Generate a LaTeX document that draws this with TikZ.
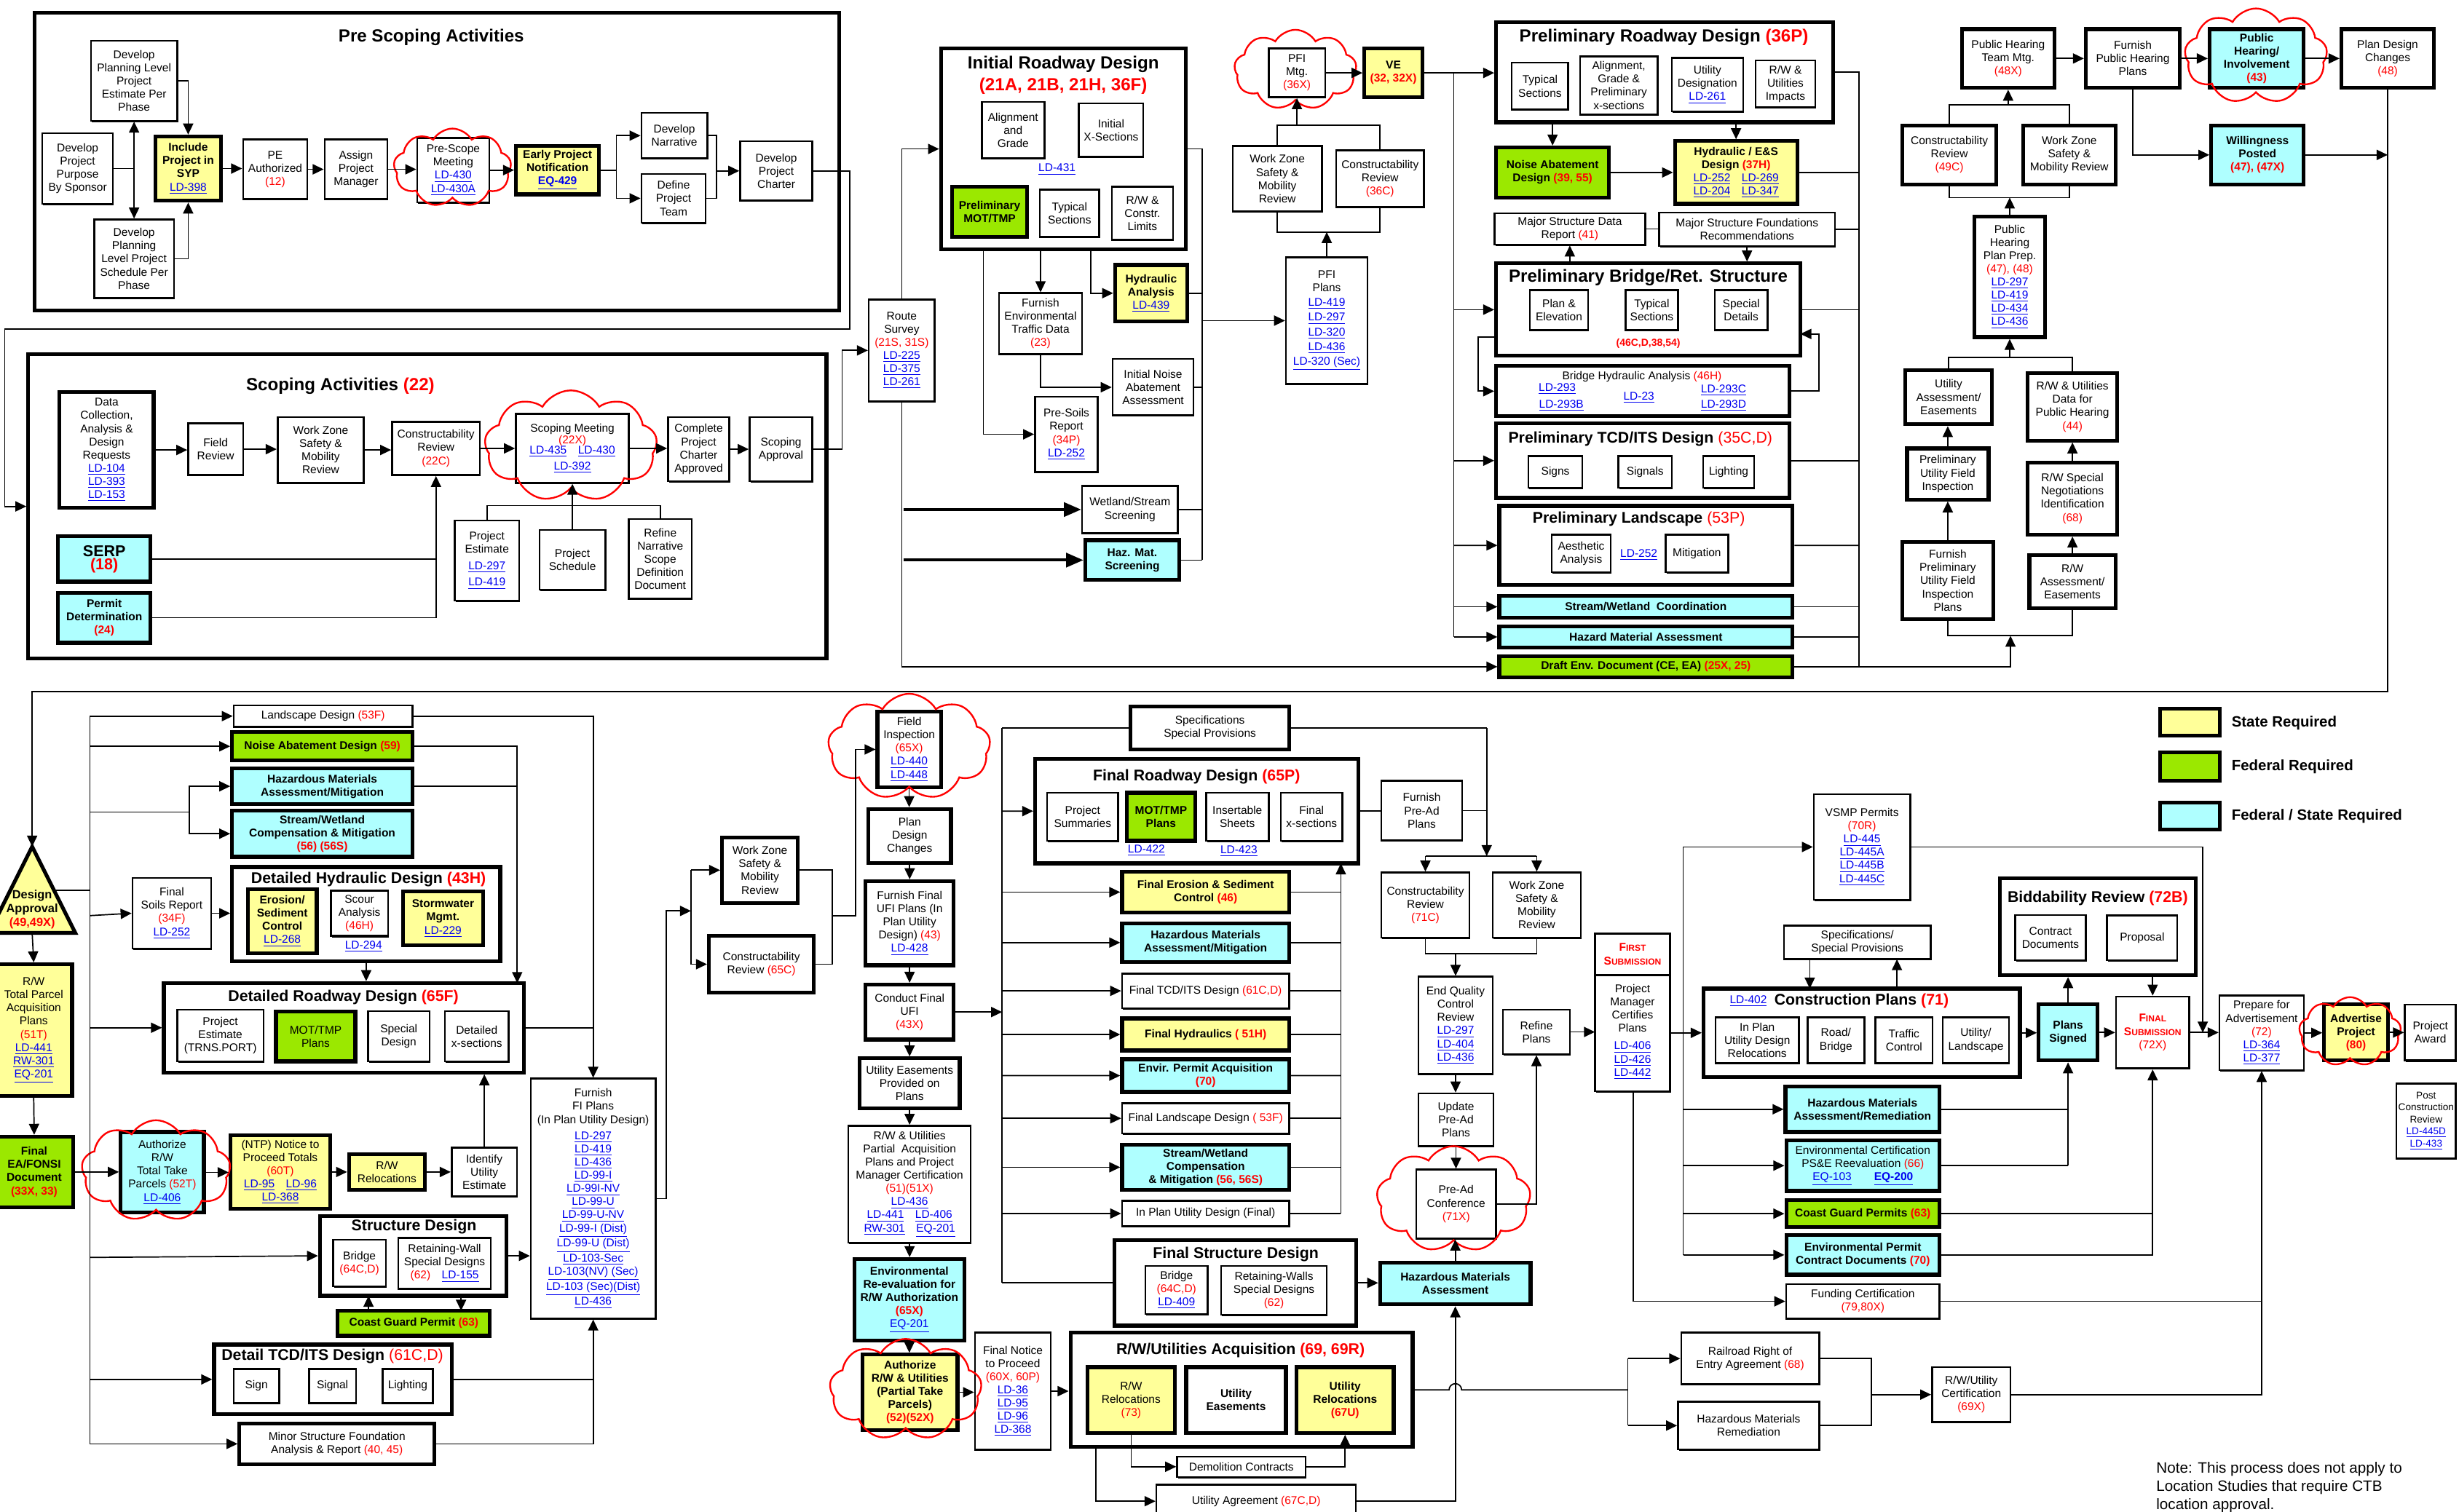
\documentclass[tikz,border=0pt]{standalone}
\usepackage{fontspec}
\setmainfont{Liberation Sans}
\usetikzlibrary{arrows.meta,shapes.symbols,shadows}
\definecolor{ylw}{RGB}{255,255,153}
\definecolor{grn}{RGB}{155,232,0}
\definecolor{cyn}{RGB}{175,255,255}
\definecolor{lkb}{RGB}{0,0,240}
\definecolor{rdd}{RGB}{255,0,0}
\newcommand\fs{\fontsize{7.2}{8.4}\selectfont}
\newcommand\lk[1]{\textcolor{lkb}{\underline{#1}}}
\newcommand\rd[1]{\textcolor{rdd}{#1}}
\newcommand\smc[2]{#1{\fontsize{5.6}{7}\selectfont #2}}
\newcommand\Bx[7]{\node[#2,minimum width={(#5)-(#3)},minimum height={(#6)-(#4)}] (#1) at ({((#3)+(#5))/2},{((#4)+(#6))/2}) {#7};}
\newcommand\Cl[5]{\node[cld,minimum width={(#4)-(#2)},minimum height={(#5)-(#3)}] (#1) at ({((#2)+(#4))/2},{((#3)+(#5))/2}) {};}
\tikzset{
  bx/.style={draw,fill=white,line width=1.2pt,align=center,inner sep=1pt,font=\fs,general shadow={fill=black,shadow xshift=0.6pt,shadow yshift=-0.8pt}},
  tk/.style={bx,line width=2.4pt},
  yb/.style={tk,fill=ylw}, gb/.style={tk,fill=grn}, cb/.style={tk,fill=cyn},
  frm/.style={draw,fill=white,line width=2.4pt,inner sep=0pt,general shadow={fill=black,shadow xshift=0.8pt,shadow yshift=-1pt}},
  ttl/.style={font=\bfseries\fontsize{11.2}{13}\selectfont,inner sep=0pt},
  ttls/.style={font=\bfseries\fontsize{9.9}{11.5}\selectfont,inner sep=0pt},
  lbl/.style={font=\fs,inner sep=0pt,align=center},
  arr/.style={line width=0.8pt,-{Triangle[length=7pt,width=6.5pt]}},
  tharr/.style={line width=1.8pt,-{Triangle[length=11pt,width=9pt]}},
  cld/.style={cloud,draw=rdd,line width=1.1pt,cloud puffs=9,cloud puff arc=120,cloud ignores aspect,inner sep=0pt}
}
\begin{document}
\begin{tikzpicture}[x=1pt,y=-1pt,line width=0.8pt]
\useasboundingbox (0,0) rectangle (1568,964);
\fill[white] (0,0) rectangle (1568,964);
\clip (0,0) rectangle (1568,964);

% ---------- frames ----------
\Bx{F1}{frm}{22}{8}{535}{198}{}
\node[ttl] (T1) at (275,24) {Pre Scoping Activities};
\Bx{F2}{frm}{18}{226}{527}{420}{}
\node[ttl] (T2) at (217,246) {Scoping Activities \rd{(22)}};
\Bx{F3}{frm}{600}{31}{756}{159}{}
\node[ttl] (T3) at (678,41) {Initial Roadway Design};
\node[ttl,text=rdd] (T3b) at (678,55) {(21A, 21B, 21H, 36F)};
\Bx{F4}{frm}{954}{14}{1169}{78}{}
\node[ttl] (T4) at (1061,24) {Preliminary Roadway Design \rd{(36P)}};
\Bx{F5}{frm}{954}{168}{1148}{227}{}
\node[ttl] (T5) at (1051,177) {Preliminary Bridge/Ret. Structure};
\node[font=\bfseries\fontsize{6.5}{8}\selectfont,text=rdd,inner sep=0pt] (T5b) at (1051,219) {(46C,D,38,54)};
\Bx{F7}{frm}{954}{270}{1141}{317.6}{}
\node[ttls] (T7) at (1046,280) {Preliminary TCD/ITS Design \rd{\mdseries(35C,D)}};
\Bx{F8}{frm}{956}{322.7}{1143}{373}{}
\node[ttls] (T8) at (1045,331) {Preliminary Landscape \rd{\mdseries(53P)}};
\Bx{F9}{frm}{148}{553}{319}{613}{}
\node[ttls] (T9) at (235,561) {Detailed Hydraulic Design \rd{(43H)}};
\Bx{F10}{frm}{104.5}{627}{334}{684}{}
\node[ttls] (T10) at (219,636) {Detailed Roadway Design \rd{(65F)}};
\Bx{F11}{frm}{204}{775.5}{323}{826.5}{}
\node[ttls] (T11) at (264,782.5) {Structure Design};
\Bx{F12}{frm}{136.5}{857.6}{288}{902}{}
\node[ttls] (T12) at (212,865) {Detail TCD/ITS Design \rd{\mdseries(61C,D)}};
\Bx{F13}{frm}{710.6}{791}{864.6}{845.5}{}
\node[ttls] (T13) at (788,800) {Final Structure Design};
\Bx{F14}{frm}{682.6}{850}{900.8}{923}{}
\node[ttls] (T14) at (791,861.5) {R/W/Utilities Acquisition \rd{(69, 69R)}};
\Bx{F15}{frm}{660}{484}{866}{550.7}{}
\node[ttls] (T15) at (763,495.4) {Final Roadway Design \rd{(65P)}};
\Bx{F16}{frm}{1086.3}{630.5}{1288}{687}{}
\node[lbl] (T16a) at (1114.8,638.5) {\lk{LD-402}};
\node[ttls] (T16) at (1187,638.5) {Construction Plans \rd{(71)}};
\Bx{F17}{frm}{1275.2}{560}{1400}{622}{}
\node[ttls] (T17) at (1337.6,573) {Biddability Review \rd{(72B)}};

% ---------- pre scoping ----------
\Bx{ps1}{bx}{58}{26}{113}{77}{Develop\\Planning Level\\Project\\Estimate Per\\Phase}
\Bx{ps2}{bx}{27}{85}{72}{130}{Develop\\Project\\Purpose\\By Sponsor}
\Bx{ps3}{bx}{60}{140}{111}{190}{Develop\\Planning\\Level Project\\Schedule Per\\Phase}
\Bx{ps4}{yb}{99}{87}{141}{128}{\textbf{Include}\\\textbf{Project in}\\\textbf{SYP}\\\lk{LD-398}}
\Bx{ps5}{bx}{155}{89}{196}{127}{PE\\Authorized\\\rd{(12)}}
\Bx{ps6}{bx}{207}{89}{247}{127}{Assign\\Project\\Manager}
\Bx{ps7}{bx}{266}{88}{312}{129}{Pre-Scope\\Meeting\\\lk{LD-430}\\\lk{LD-430A}}
\Bx{ps8}{yb}{329}{93}{382}{124}{\textbf{Early Project}\\\textbf{Notification}\\\textbf{\lk{EQ-429}}}
\Bx{ps9}{bx}{409}{72}{451}{101}{Develop\\Narrative}
\Bx{ps10}{bx}{409}{111}{450}{142}{Define\\Project\\Team}
\Bx{ps11}{bx}{472}{90}{518}{128}{Develop\\Project\\Charter}

% ---------- scoping ----------
\Bx{sc1}{tk}{38}{250}{98}{324}{Data\\Collection,\\Analysis \&\\Design\\Requests\\\lk{LD-104}\\\lk{LD-393}\\\lk{LD-153}}
\Bx{sc2}{bx}{120}{270}{155}{303}{Field\\Review}
\Bx{sc3}{bx}{177}{266}{232}{308}{Work Zone\\Safety \&\\Mobility\\Review}
\Bx{sc4}{bx}{250}{269}{306}{303}{Constructability\\Review\\\rd{(22C)}}
\Bx{sc5}{bx}{329}{264}{401}{308}{Scoping Meeting\\[-1pt]\rd{(22X)}\\[-2pt]\lk{LD-435}\quad\lk{LD-430}\\[2pt]\lk{LD-392}}
\Bx{sc6}{bx}{426}{266}{465}{307}{Complete\\Project\\Charter\\Approved}
\Bx{sc7}{bx}{478}{266}{518}{307}{Scoping\\Approval}
\Bx{sc8}{cb}{37}{342}{96}{371}{\fontsize{10}{11.5}\selectfont\textbf{SERP}\\\fontsize{10}{11.5}\selectfont\textbf{\rd{(18)}}}
\Bx{sc9}{cb}{37}{378}{96}{410}{\textbf{Permit}\\\textbf{Determination}\\\textbf{\rd{(24)}}}
\Bx{sc10}{bx}{290}{332}{331}{383}{Project\\Estimate\\[2pt]\lk{LD-297}\\[2pt]\lk{LD-419}}
\Bx{sc11}{bx}{344}{338}{386}{376}{Project\\Schedule}
\Bx{sc12}{bx}{401}{331}{441}{382}{Refine\\Narrative\\Scope\\Definition\\Document}

% ---------- initial roadway ----------
\Bx{rs}{bx}{554}{191}{596}{256}{Route\\Survey\\\rd{(21S, 31S)}\\\lk{LD-225}\\\lk{LD-375}\\\lk{LD-261}}
\Bx{ir1}{bx}{626}{65}{666}{101}{Alignment\\and\\Grade}
\Bx{ir2}{bx}{688}{66}{729}{100}{Initial\\X-Sections}
\node[lbl] (ir0) at (674,108) {\lk{LD-431}};
\Bx{ir3}{gb}{607}{119}{655}{151}{\textbf{Preliminary}\\\textbf{MOT/TMP}}
\Bx{ir4}{bx}{663}{121}{701}{151}{Typical\\Sections}
\Bx{ir5}{bx}{709}{119}{748}{153}{R/W \&\\Constr.\\Limits}
\Bx{ir6}{bx}{637}{187}{690}{226}{Furnish\\Environmental\\Traffic Data\\\rd{(23)}}
\Bx{ir7}{yb}{711}{169}{757}{205}{\textbf{Hydraulic}\\\textbf{Analysis}\\\lk{LD-439}}
\Bx{ir8}{bx}{660}{253}{700}{301}{Pre-Soils\\Report\\\rd{(34P)}\\\lk{LD-252}}
\Bx{ir9}{bx}{709.5}{229}{761}{265}{Initial Noise\\Abatement\\Assessment}
\Bx{ir10}{bx}{690}{310}{751}{340}{Wetland/Stream\\Screening}
\Bx{ir11}{cb}{692}{344.5}{752}{370}{\textbf{Haz. Mat.}\\\textbf{Screening}}
\Bx{pf}{bx}{820}{164}{872}{245}{PFI\\Plans\\[1pt]\lk{LD-419}\\[1pt]\lk{LD-297}\\[1pt]\lk{LD-320}\\[1pt]\lk{LD-436}\\[1pt]\lk{LD-320 (Sec)}}
\Bx{pw}{bx}{786}{93}{843}{135}{Work Zone\\Safety \&\\Mobility\\Review}
\Bx{pc}{bx}{852}{96}{908}{132}{Constructability\\Review\\\rd{(36C)}}
\Bx{pm}{bx}{809}{31}{845}{62}{PFI\\Mtg.\\\rd{(36X)}}
\Bx{ve}{yb}{870}{31}{907}{62}{\textbf{VE}\\\textbf{\rd{(32, 32X)}}}

% ---------- preliminary roadway ----------
\Bx{pr1}{bx}{964}{40}{1000}{70}{Typical\\Sections}
\Bx{pr2}{bx}{1007.5}{36}{1057}{73}{Alignment,\\Grade \&\\Preliminary\\x-sections}
\Bx{pr3}{bx}{1066}{37}{1111.5}{71}{Utility\\Designation\\\lk{LD-261}}
\Bx{pr4}{bx}{1119.5}{38.5}{1157.5}{68.6}{R/W \&\\Utilities\\Impacts}
\Bx{na}{gb}{954}{94}{1026}{126}{\textbf{Noise Abatement}\\\textbf{Design \rd{(39, 55)}}}
\Bx{hy}{yb}{1068}{90}{1146}{130}{\textbf{Hydraulic / E\&S}\\\textbf{Design \rd{(37H)}}\\\lk{LD-252}\quad\lk{LD-269}\\\lk{LD-204}\quad\lk{LD-347}}
\Bx{ms1}{bx}{953}{136}{1049}{156}{Major Structure Data\\Report \rd{(41)}}
\Bx{ms2}{bx}{1058}{135.5}{1170}{157}{Major Structure Foundations\\Recommendations}
\Bx{b1}{bx}{975.5}{185}{1012.7}{210.5}{Plan \&\\Elevation}
\Bx{b2}{bx}{1036.5}{185}{1070}{210.5}{Typical\\Sections}
\Bx{b3}{bx}{1093.5}{185}{1127}{210.5}{Special\\Details}
\Bx{bh}{tk}{954}{233.5}{1141}{265.5}{}
\node[lbl] (bh1) at (1047,240.5) {Bridge Hydraulic Analysis \rd{(46H)}};
\node[lbl] (bh2) at (993,248) {\lk{LD-293}};
\node[lbl] (bh3) at (995.6,258.7) {\lk{LD-293B}};
\node[lbl] (bh4) at (1045,253.5) {\lk{LD-23}};
\node[lbl] (bh5) at (1099,249) {\lk{LD-293C}};
\node[lbl] (bh6) at (1099,258.7) {\lk{LD-293D}};
\Bx{t1}{bx}{974.6}{291}{1009}{311}{Signs}
\Bx{t2}{bx}{1032}{291}{1066}{311}{Signals}
\Bx{t3}{bx}{1086}{291}{1118.5}{311}{Lighting}
\Bx{l1}{bx}{989.5}{341}{1027}{365}{Aesthetic\\Analysis}
\node[lbl] (l0) at (1045,354) {\lk{LD-252}};
\Bx{l2}{bx}{1062}{341}{1102}{365}{Mitigation}
\Bx{sw}{cb}{956}{380}{1143}{394}{\textbf{Stream/Wetland\ \ Coordination}}
\Bx{hz}{cb}{956}{399.5}{1143}{413}{\textbf{Hazard Material Assessment}}
\Bx{dr}{gb}{956}{418.5}{1143}{432}{\textbf{Draft Env. Document (CE, EA) \rd{(25X, 25)}}}

% ---------- public hearing ----------
\Bx{h1}{tk}{1251}{18.6}{1310}{56}{Public Hearing\\Team Mtg.\\\rd{(48X)}}
\Bx{h2}{tk}{1330}{18.6}{1390}{56}{Furnish\\Public Hearing\\Plans}
\Bx{h3}{cb}{1409}{18.6}{1469}{56}{\textbf{Public}\\\textbf{Hearing/}\\\textbf{Involvement}\\\textbf{\rd{(43)}}}
\Bx{h4}{tk}{1493}{18.6}{1552}{56}{Plan Design\\Changes\\\rd{(48)}}
\Bx{h5}{cb}{1410}{80}{1469}{117.6}{\textbf{Willingness}\\\textbf{Posted}\\\textbf{\rd{(47), (47X)}}}
\Bx{h6}{tk}{1213}{80}{1273}{117.6}{Constructability\\Review\\\rd{(49C)}}
\Bx{h7}{tk}{1290}{80}{1349}{117.6}{Work Zone\\Safety \&\\Mobility Review}
\Bx{h8}{tk}{1259}{138}{1304}{215}{Public\\Hearing\\Plan Prep.\\\rd{(47), (48)}\\\lk{LD-297}\\\lk{LD-419}\\\lk{LD-434}\\\lk{LD-436}}
\Bx{h9}{tk}{1215}{236}{1270}{270.6}{Utility\\Assessment/\\Easements}
\Bx{h10}{tk}{1293}{238}{1350}{281}{R/W \& Utilities\\Data for\\Public Hearing\\\rd{(44)}}
\Bx{h11}{tk}{1216}{286}{1268}{318.6}{Preliminary\\Utility Field\\Inspection}
\Bx{h12}{tk}{1293}{295}{1350}{341}{R/W Special\\Negotiations\\Identification\\\rd{(68)}}
\Bx{h13}{tk}{1213}{345.5}{1271}{395}{Furnish\\Preliminary\\Utility Field\\Inspection\\Plans}
\Bx{h14}{tk}{1294}{354}{1349}{388}{R/W\\Assessment/\\Easements}

% ---------- lower left ----------
\filldraw[fill=ylw,line width=2.4pt] (20.5,540) -- (48,595) -- (-7,595) -- cycle;
\coordinate (daTop) at (20.5,540);
\node[font=\bfseries\fontsize{7.6}{8.8}\selectfont,align=center,inner sep=0pt] (da) at (20.5,580) {Design\\Approval\\\rd{(49,49X)}};
\Bx{rw}{yb}{-3}{615}{46}{699}{R/W\\Total Parcel\\Acquisition\\Plans\\\rd{(51T)}\\\lk{LD-441}\\\lk{RW-301}\\\lk{EQ-201}}
\Bx{fe}{gb}{-3}{725}{46.6}{770}{\textbf{Final}\\\textbf{EA/FONSI}\\\textbf{Document}\\\textbf{\rd{(33X, 33)}}}
\Bx{au}{cb}{77}{722}{130}{773.5}{Authorize\\R/W\\Total Take\\Parcels \rd{(52T)}\\\lk{LD-406}}
\Bx{nt}{yb}{147}{724}{210.5}{771}{(NTP) Notice to\\Proceed Totals\\\rd{(60T)}\\\lk{LD-95}\quad\lk{LD-96}\\\lk{LD-368}}
\Bx{rr}{yb}{222.5}{736}{271}{759}{R/W\\Relocations}
\Bx{iu}{bx}{288}{732}{329.7}{763}{Identify\\Utility\\Estimate}
\Bx{ls}{bx}{149}{450}{263}{463.5}{Landscape Design \rd{(53F)}}
\Bx{nd}{gb}{148}{467}{263}{485}{\textbf{Noise Abatement Design \rd{(59)}}}
\Bx{hm}{cb}{148}{490}{263}{513}{\textbf{Hazardous Materials}\\\textbf{Assessment/Mitigation}}
\Bx{sm}{cb}{148}{517}{263}{546.5}{\textbf{Stream/Wetland}\\\textbf{Compensation \& Mitigation}\\\textbf{\rd{(56) (56S)}}}
\Bx{fs}{bx}{84.5}{560}{134.6}{605}{Final\\Soils Report\\\rd{(34F)}\\\lk{LD-252}}
\Bx{d1}{yb}{158}{567}{202}{608}{\textbf{Erosion/}\\\textbf{Sediment}\\\textbf{Control}\\\lk{LD-268}}
\Bx{d2}{bx}{211}{568}{247.4}{597}{Scour\\Analysis\\\rd{(46H)}}
\node[lbl] (d0) at (231.8,603.6) {\lk{LD-294}};
\Bx{d3}{yb}{257}{568.7}{308}{603}{\textbf{Stormwater}\\\textbf{Mgmt.}\\\lk{LD-229}}
\Bx{r1}{bx}{113}{644}{168}{677}{Project\\Estimate\\(TRNS.PORT)}
\Bx{r2}{gb}{176}{645}{226.6}{677}{MOT/TMP\\Plans}
\Bx{r3}{bx}{234.6}{645}{274}{677}{Special\\Design}
\Bx{r4}{bx}{283.6}{645}{324.4}{677}{Detailed\\x-sections}
\Bx{fi}{bx}{338.5}{688}{418}{841}{Furnish\\FI Plans\\(In Plan Utility Design)\\[2pt]\lk{LD-297}\\\lk{LD-419}\\\lk{LD-436}\\\lk{LD-99-I}\\\lk{LD-99I-NV}\\\lk{LD-99-U}\\\lk{LD-99-U-NV}\\\lk{LD-99-I (Dist)}\\\lk{LD-99-U (Dist)}\\\lk{LD-103-Sec}\\\lk{LD-103(NV) (Sec)}\\\lk{LD-103 (Sec)(Dist)}\\\lk{LD-436}}
\Bx{s1}{bx}{212.4}{790.8}{246}{820.4}{Bridge\\\rd{(64C,D)}}
\Bx{s2}{bx}{254}{789.6}{313}{822}{Retaining-Wall\\Special Designs\\\rd{(62)}\quad\lk{LD-155}}
\Bx{cg}{gb}{215.4}{836}{312.4}{852}{\textbf{Coast Guard Permit \rd{(63)}}}
\Bx{c1}{bx}{149}{873}{178}{895}{Sign}
\Bx{c2}{bx}{197}{873}{227}{895}{Signal}
\Bx{c3}{bx}{244}{873}{276}{895}{Lighting}
\Bx{mf}{tk}{152.7}{907.8}{277}{934}{Minor Structure Foundation\\Analysis \& Report \rd{(40, 45)}}

% ---------- lower middle ----------
\Bx{wz2}{tk}{460.4}{534}{508.7}{576}{Work Zone\\Safety \&\\Mobility\\Review}
\Bx{cr2}{tk}{452}{597}{519}{633}{Constructability\\Review \rd{(65C)}}
\Bx{fiq}{tk}{559.5}{454}{600}{502}{Field\\Inspection\\\rd{(65X)}\\\lk{LD-440}\\\lk{LD-448}}
\Bx{pd}{tk}{553.7}{516}{606.4}{550.5}{Plan\\Design\\Changes}
\Bx{fu}{tk}{552}{562}{608}{615.7}{Furnish Final\\UFI Plans (In\\Plan Utility\\Design) \rd{(43)}\\\lk{LD-428}}
\Bx{cf}{tk}{552}{628}{608}{663}{Conduct Final\\UFI\\\rd{(43X)}}
\Bx{ue}{tk}{548}{675}{612}{707}{Utility Easements\\Provided on\\Plans}
\Bx{ra}{bx}{541}{718}{619}{792.6}{R/W \& Utilities\\Partial\ \ Acquisition\\Plans and Project\\Manager Certification\\\rd{(51)(51X)}\\\lk{LD-436}\\\lk{LD-441}\quad\lk{LD-406}\\\lk{RW-301}\quad\lk{EQ-201}}
\Bx{ev}{cb}{544.7}{803}{615}{855}{\textbf{Environmental}\\\textbf{Re-evaluation for}\\\textbf{R/W Authorization}\\\textbf{\rd{(65X)}}\\\lk{EQ-201}}
\Bx{ar}{yb}{550}{864}{610.6}{912}{\textbf{Authorize}\\\textbf{R/W \& Utilities}\\\textbf{(Partial Take}\\\textbf{Parcels)}\\\textbf{\rd{(52)(52X)}}}
\Bx{fn}{bx}{621.7}{850}{670}{924.6}{Final Notice\\to Proceed\\\rd{(60X, 60P)}\\\lk{LD-36}\\\lk{LD-95}\\\lk{LD-96}\\\lk{LD-368}}
\Bx{ss}{tk}{721}{450.5}{822}{478}{Specifications\\Special Provisions}
\Bx{q1}{bx}{667.7}{505.6}{713}{536.3}{Project\\Summaries}
\Bx{q2}{gb}{718.6}{505.6}{762}{536.3}{\textbf{MOT/TMP}\\\textbf{Plans}}
\Bx{q3}{bx}{769}{505.6}{809}{536.3}{Insertable\\Sheets}
\Bx{q4}{bx}{816.7}{505.6}{856}{536.3}{Final\\x-sections}
\node[lbl] (q0a) at (731,542.5) {\lk{LD-422}};
\node[lbl] (q0b) at (790,542.8) {\lk{LD-423}};
\Bx{fe1}{yb}{715.5}{556}{822}{582}{\textbf{Final Erosion \& Sediment}\\\textbf{Control \rd{(46)}}}
\Bx{fe2}{cb}{715.5}{589}{822}{613.4}{\textbf{Hazardous Materials}\\\textbf{Assessment/Mitigation}}
\Bx{fe3}{bx}{715.5}{621}{822}{643}{Final TCD/ITS Design \rd{(61C,D)}}
\Bx{fe4}{yb}{715.5}{649.6}{822}{670}{\textbf{Final Hydraulics \rd{( 51H)}}}
\Bx{fe5}{cb}{715.5}{675.6}{822}{696.5}{\textbf{Envir. Permit Acquisition}\\\textbf{\rd{(70)}}}
\Bx{fe6}{bx}{715.5}{703.6}{822}{723}{Final Landscape Design \rd{( 53F)}}
\Bx{fe7}{cb}{715.5}{730}{822}{759}{\textbf{Stream/Wetland}\\\textbf{Compensation}\\\textbf{\& Mitigation \rd{(56, 56S)}}}
\Bx{fe8}{bx}{715.5}{766}{822}{782}{In Plan Utility Design (Final)}
\Bx{g1}{bx}{730.4}{807.5}{770}{838}{Bridge\\\rd{(64C,D)}\\\lk{LD-409}}
\Bx{g2}{bx}{778.7}{807.5}{846}{838.6}{Retaining-Walls\\Special Designs\\\rd{(62)}}
\Bx{u1}{yb}{693.5}{872}{749}{914}{R/W\\Relocations\\\rd{(73)}}
\Bx{u2}{tk}{756.4}{872}{820}{914}{\textbf{Utility}\\\textbf{Easements}}
\Bx{u3}{yb}{826.7}{872}{888.7}{914}{\textbf{Utility}\\\textbf{Relocations}\\\textbf{\rd{(67U)}}}
\Bx{dm}{bx}{750.6}{929}{832.5}{942}{Demolition Contracts}
\Bx{ua}{bx}{737.4}{947}{864.6}{968}{Utility Agreement \rd{(67C,D)}}

% ---------- lower right ----------
\Bx{pa}{bx}{880.8}{498}{932.4}{536}{Furnish\\Pre-Ad\\Plans}
\Bx{fc}{bx}{880.8}{556.5}{937}{598}{Constructability\\Review\\\rd{(71C)}}
\Bx{fw}{bx}{951.8}{556.5}{1008}{598}{Work Zone\\Safety \&\\Mobility\\Review}
\Bx{eq}{bx}{904.5}{623}{951.8}{685}{End Quality\\Control\\Review\\\lk{LD-297}\\\lk{LD-404}\\\lk{LD-436}}
\Bx{up}{bx}{904.5}{697.4}{952.3}{731}{Update\\Pre-Ad\\Plans}
\Bx{pc2}{bx}{903}{746}{954}{790}{Pre-Ad\\Conference\\\rd{(71X)}}
\Bx{hma}{cb}{880}{805.5}{976}{832}{\textbf{Hazardous Materials}\\\textbf{Assessment}}
\Bx{rp}{bx}{958.4}{644}{1001}{672.4}{Refine\\Plans}
\Bx{fsb}{bx}{1017}{595.5}{1065}{696}{}
\draw[line width=1.2pt] (1017,622) -- (1065,622);
\node[font=\bfseries\fontsize{7.2}{8.6}\selectfont,text=rdd,align=center,inner sep=0pt] (fsb1) at (1041,608.7) {\smc{F}{IRST}\\\smc{S}{UBMISSION}};
\node[lbl] (fsb2) at (1041,658) {Project\\Manager\\Certifies\\Plans\\[3pt]\lk{LD-406}\\\lk{LD-426}\\\lk{LD-442}};
\Bx{vs}{bx}{1156.6}{506.6}{1218}{573.8}{VSMP Permits\\\rd{(70R)}\\\lk{LD-445}\\\lk{LD-445A}\\\lk{LD-445B}\\\lk{LD-445C}}
\Bx{spc}{bx}{1137.6}{590.4}{1231}{611.8}{Specifications/\\Special Provisions}
\Bx{k1}{bx}{1094}{649}{1147}{678}{In Plan\\Utility Design\\Relocations}
\Bx{k2}{bx}{1152.6}{649}{1188.8}{678}{Road/\\Bridge}
\Bx{k3}{bx}{1195.9}{649}{1232.3}{678}{Traffic\\Control}
\Bx{k4}{bx}{1238.8}{649}{1281}{678}{Utility/\\Landscape}
\Bx{hr}{cb}{1138.5}{693}{1236.7}{722}{\textbf{Hazardous Materials}\\\textbf{Assessment/Remediation}}
\Bx{ec}{cb}{1139}{727.3}{1236.7}{759.6}{Environmental Certification\\PS\&E Reevaluation \rd{(66)}\\\lk{EQ-103}\qquad\textbf{\lk{EQ-200}}}
\Bx{cgp}{gb}{1139}{765.6}{1236.7}{782.6}{\textbf{Coast Guard Permits \rd{(63)}}}
\Bx{epc}{cb}{1139}{787.8}{1236.7}{813}{\textbf{Environmental Permit}\\\textbf{Contract Documents \rd{(70)}}}
\Bx{fcert}{bx}{1139}{819}{1236.7}{841}{Funding Certification\\\rd{(79,80X)}}
\Bx{rre}{bx}{1072}{850}{1160}{883}{Railroad Right of\\Entry Agreement \rd{(68)}}
\Bx{hmr}{bx}{1070}{894}{1160}{924.5}{Hazardous Materials\\Remediation}
\Bx{rwc}{bx}{1232}{872}{1282}{907}{R/W/Utility\\Certification\\\rd{(69X)}}
\Bx{bd1}{bx}{1285}{583.7}{1330}{612.4}{Contract\\Documents}
\Bx{bd2}{bx}{1343.6}{584}{1388.3}{612.4}{Proposal}
\Bx{psg}{cb}{1300}{640.7}{1337.4}{676.4}{\textbf{Plans}\\\textbf{Signed}}
\Bx{fsub}{bx}{1349.3}{635.6}{1396}{681.5}{{\bfseries\color{rdd}\smc{F}{INAL}}\\{\bfseries\color{rdd}\smc{S}{UBMISSION}}\\\rd{(72X)}}
\Bx{pfa}{bx}{1415.3}{635}{1469}{682.5}{Prepare for\\Advertisement\\\rd{(72)}\\\lk{LD-364}\\\lk{LD-377}}
\Bx{adv}{yb}{1482}{640.7}{1522.6}{676.4}{\textbf{Advertise}\\\textbf{Project}\\\textbf{\rd{(80)}}}
\Bx{paw}{bx}{1533.5}{640.7}{1566}{676.4}{Project\\Award}
\Bx{pcr}{bx,font=\fontsize{6.3}{7.6}\selectfont,inner sep=0.5pt}{1528}{691}{1566}{739}{Post\\Construction\\Review\\\lk{LD-445D}\\\lk{LD-433}}

% ---------- legend & note ----------
\Bx{lg1}{yb}{1377.5}{452}{1415.3}{469}{}
\Bx{lg2}{gb}{1377.5}{480}{1415.3}{498}{}
\Bx{lg3}{cb}{1377.5}{512}{1415.3}{529}{}
\node[anchor=west,inner sep=0pt,font=\bfseries\fontsize{9.5}{11}\selectfont] (lt1) at (1422.6,461) {State Required};
\node[anchor=west,inner sep=0pt,font=\bfseries\fontsize{9.5}{11}\selectfont] (lt2) at (1422.6,489) {Federal Required};
\node[anchor=west,inner sep=0pt,font=\bfseries\fontsize{9.5}{11}\selectfont] (lt3) at (1422.6,520.5) {Federal / State Required};
\node[anchor=north west,inner sep=0pt,align=left,font=\fontsize{9.6}{11.6}\selectfont] (note) at (1374.6,932) {Note: This process does not apply to\\Location Studies that require CTB\\location approval.};

% ---------- clouds ----------
\Cl{cl1}{251}{82}{326}{132}
\Cl{cl2}{309}{249}{419}{320}
\Cl{cl3}{787}{19}{865}{70}
\Cl{cl4}{1393}{5.4}{1484}{66}
\Cl{cl5}{52}{714.5}{147}{779}
\Cl{cl6}{528}{442.5}{631.5}{510}
\Cl{cl7}{529}{854}{626}{918.5}
\Cl{cl8}{877.8}{731}{976}{798.6}
\Cl{cl9}{1466}{636}{1531}{680}

% ---------- connectors: pre scoping ----------
\draw[arr] (ps2.east) -| (ps1.south);
\draw[arr] (ps2.east) -| (ps3.north);
\draw[arr] (ps1.east) -| (ps4.north);
\draw[arr] (ps3.east) -| (ps4.south);
\draw[arr] (ps4.east) -- (ps4.east -| ps5.west);
\draw[arr] (ps5.east) -- (ps5.east -| ps6.west);
\draw[arr] (ps6.east) -- (ps6.east -| ps7.west);
\draw[arr] (ps7.east) -- (ps7.east -| ps8.west);
\draw[arr] (ps8.east) -- (393,108.5) |- (ps9.west);
\draw[arr] (393,108.5) |- (ps10.west);
\coordinate (j1) at (457,109);
\draw (ps9.east) -| (j1);
\draw (ps10.east) -| (j1);
\draw[arr] (j1) -- (ps11.west);
\draw[arr] (ps11.east) -- (542,109) -- (542,210) -- (3,210) -- (3,323) -- (F2.west);

% scoping
\draw[arr] (sc1.east) -- (sc1.east -| sc2.west);
\draw[arr] (sc2.east) -- (sc2.east -| sc3.west);
\draw[arr] (sc3.east) -- (sc3.east -| sc4.west);
\draw[arr] (sc4.east) -- (sc4.east -| sc5.west);
\draw[arr] (sc5.east) -- (sc5.east -| sc6.west);
\draw[arr] (sc6.east) -- (sc6.east -| sc7.west);
\draw (sc8.east) -- (sc8.east -| sc4.south);
\draw[arr] (sc9.east) -| (sc4.south);
\draw (sc10.north) -- ++(0,-9) -| (sc12.north);
\draw[arr] (sc11.north) -- (sc11.north |- sc5.south);
\draw[arr] (sc7.east) -- (537,286.5) -- (537,223.5) -- (rs.west);

% initial roadway
\draw[arr] (rs.north) |- (F3.west);
\draw[arr] (627,159) |- (ir8.west);
\draw[arr] (ir6.north |- F3.south) -- (ir6.north);
\draw[arr] (695.5,159) |- (ir7.west);
\draw[arr] (ir6.south) |- (ir9.west);
\draw (F3.east) -- (766.5,95) -- (766.5,357.25);
\draw (ir7.east) -- (766.5,187);
\draw (ir9.east) -- (766.5,247);
\draw (ir10.east) -- (766.5,325);
\draw (ir11.east) -- (766.5,357.25);
\draw[arr] (766.5,204.5) -- (pf.west);
\draw (rs.south) -- (575,425.25);
\draw[arr] (575,425.25) -- (dr.west);
\draw[tharr] (576,325) -- (ir10.west);
\draw[tharr] (576,357.25) -- (ir11.west);

% PFI
\draw[arr] (pf.north) -- (846,148);
\draw (pw.south) -- (814.5,148) -- (880,148) -- (pc.south);
\draw (pw.north) -- (814.5,80) -- (880,80) -- (pc.north);
\draw[arr] (827,80) -- (pm.south);
\draw[arr] (pm.east) -- (ve.west);
\draw[arr] (ve.east) -- (ve.east -| F4.west);
\draw (927,46.5) -- (927,406.25);
\draw[arr] (927,197.5) -- (F5.west);
\draw[arr] (927,293.8) -- (F7.west);
\draw[arr] (927,347.85) -- (F8.west);
\draw[arr] (927,387) -- (sw.west);
\draw[arr] (927,406.25) -- (hz.west);
\draw[arr] (954,215) -- (942.5,215) -- (942.5,249.5) -- (bh.west);

% preliminary roadway
\draw[arr] (na.north |- F4.south) -- (na.north);
\draw[arr] (hy.north |- F4.south) -- (hy.north);
\draw[arr] (na.east) -- (na.east -| hy.west);
\draw (ms1.east) -- (ms1.east -| ms2.west);
\draw[arr] (ms1.south |- F5.north) -- (ms1.south);
\draw[arr] (ms2.south) -- (ms2.south |- F5.north);
\draw[arr] (bh.east) -- (1160,249.5) -- (1160,213) -- (1148,213);
\draw (F4.east) -- (1185.5,46) -- (1185.5,425.25);
\draw (hy.east) -- (1185.5,110);
\draw (ms2.east) -- (1185.5,146.25);
\draw (F5.east) -- (1185.5,197.5);
\draw (F7.east) -- (1185.5,293.8);
\draw (F8.east) -- (1185.5,347.85);
\draw (sw.east) -- (1185.5,387);
\draw (hz.east) -- (1185.5,406.25);
\draw (dr.east) -- (1185.5,425.25);
\draw[arr] (1185.5,425.25) -- (1282,425.25) -- (1282,405.5);

% public hearing
\draw[arr] (h1.east) -- (h1.east -| h2.west);
\draw[arr] (h2.east) -- (h2.east -| h3.west);
\draw[arr] (h3.east) -- (h3.east -| h4.west);
\draw[arr] (h2.south) |- (h5.west);
\draw[arr] (h5.east) -- (1522.5,98.8);
\draw[arr] (h4.south) -- (1522.5,441) -- (20.5,441) -- (daTop);
\draw (h6.north) -- (1243,67) -- (1319.5,67) -- (h7.north);
\draw[arr] (1280.5,67) -- (h1.south);
\draw (h6.south) -- (1243,126) -- (1319.5,126) -- (h7.south);
\draw[arr] (h8.north) -- (1281.5,126);
\draw (h9.north) -- (1242.5,228) -- (1321.5,228) -- (h10.north);
\draw[arr] (1281.5,228) -- (h8.south);
\draw[arr] (h11.north) -- (h11.north |- h9.south);
\draw[arr] (h12.north) -- (h12.north |- h10.south);
\draw[arr] (h13.north) -- (h13.north |- h11.south);
\draw[arr] (h14.north) -- (h14.north |- h12.south);
\draw (h13.south) -- (1242,405.5) -- (1321.5,405.5) -- (h14.south);

% lower left
\draw (34.5,568) -- (57.3,568);
\draw[arr] (20.5,595) -- (rw.north);
\draw[arr] (rw.south) -- (fe.north);
\draw[arr] (fe.east) -- (fe.east -| au.west);
\draw[arr] (au.east) -- (au.east -| nt.west);
\draw[arr] (nt.east) -- (nt.east -| rr.west);
\draw[arr] (rr.east) -- (rr.east -| iu.west);
\draw[arr] (iu.north) -- (iu.north |- F10.south);
\draw (57.3,456.75) -- (57.3,920.9);
\draw[arr] (57.3,456.75) -- (ls.west);
\draw[arr] (57.3,476) -- (nd.west);
\draw (57.3,518) -- (120.7,518);
\draw[arr] (120.7,518) |- (hm.west);
\draw[arr] (120.7,518) |- (sm.west);
\draw[arr] (57.3,584) -- (fs.west);
\draw[arr] (57.3,655.5) -- (F10.west);
\draw[arr] (57.3,802) -- (F11.west);
\draw[arr] (57.3,879.8) -- (F12.west);
\draw[arr] (57.3,920.9) -- (mf.west);
\draw[arr] (fs.east) -- (fs.east -| F9.west);
\draw[arr] (F9.south) -- (F9.south |- F10.north);
\draw[arr] (ls.east) -- (378.25,456.75) -- (fi.north);
\draw[arr] (nd.east) -- (329.8,476) -- (329.8,627);
\draw (hm.east) -- (329.8,501.5);
\draw (F10.east) -- (378.25,655.5);
\draw[arr] (F11.east) -- (F11.east -| fi.west);
\draw[arr] (F12.east) -| (fi.south);
\draw (mf.east) -- (378.25,920.9) -- (378.25,879.8);
\draw[arr] (235,836) -- (235,826.5);
\draw[arr] (294,826.5) -- (294,836);

% lower middle
\draw[arr] (fi.east) -- (425,764.5) -- (425,581) -- (440.6,581);
\draw (440.6,555) -- (440.6,615);
\draw[arr] (440.6,555) -- (wz2.west);
\draw[arr] (440.6,615) -- (cr2.west);
\draw (wz2.east) -- (530.7,555) -- (530.7,615) -- (cr2.east);
\draw[arr] (530.7,584) -- (545.4,584) -- (545.4,478) -- (fiq.west);
\draw[arr] (fiq.south) -- (fiq.south |- pd.north);
\draw[arr] (pd.south) -- (pd.south |- fu.north);
\draw[arr] (fu.south) -- (fu.south |- cf.north);
\draw[arr] (cf.south) -- (cf.south |- ue.north);
\draw[arr] (ue.south) -- (ue.south |- ra.north);
\draw[arr] (ra.south) -- (ra.south |- ev.north);
\draw[arr] (ev.south) -- (ev.south |- ar.north);
\draw[arr] (cf.east) -- (639,645.5);
\draw[arr] (ar.east) -- (ar.east -| fn.west);
\draw[arr] (fn.east) -- (fn.east -| F14.west);
\draw (639,464.25) -- (639,818.25);
\draw (639,464.25) -- (ss.west);
\draw (639,818.25) -- (F13.west);
\draw[arr] (639,517.35) -- (F15.west);
\draw[arr] (639,569) -- (fe1.west);
\draw[arr] (639,601.2) -- (fe2.west);
\draw[arr] (639,632) -- (fe3.west);
\draw[arr] (639,659.8) -- (fe4.west);
\draw[arr] (639,686) -- (fe5.west);
\draw[arr] (639,713.3) -- (fe6.west);
\draw[arr] (639,744.5) -- (fe7.west);
\draw[arr] (639,774) -- (fe8.west);
\draw (fe1.east) -- (855,569);
\draw (fe2.east) -- (855,601.2);
\draw (fe3.east) -- (855,632);
\draw (fe4.east) -- (855,659.8);
\draw (fe5.east) -- (855,686);
\draw (fe6.east) -- (855,713.3);
\draw (fe7.east) -- (855,744.5);
\draw (fe8.east) -- (855,774);
\draw[arr] (855,774) -- (855,550.7);
\draw[arr] (u1.south) |- (dm.west);
\draw[arr] (dm.east) -| (u3.south);
\draw[arr] (698.8,923) |- (ua.west);
\draw[arr] (ua.east) -| (hma.south);

% lower right
\draw (ss.east) -- (948,464.25);
\draw[arr] (948,464.25) -- (948,546);
\draw (F15.east) -- (F15.east -| pa.west);
\draw (pa.east) -- (948,517);
\draw (908.9,546) -- (979.9,546);
\draw[arr] (908.9,546) -- (fc.north);
\draw[arr] (979.9,546) -- (fw.north);
\draw (fc.south) -- (908.9,608.4) -- (979.9,608.4) -- (fw.south);
\draw[arr] (928.15,608.4) -- (eq.north);
\draw[arr] (eq.south) -- (eq.south |- up.north);
\draw[arr] (up.south) -- (up.south |- pc2.north);
\draw[arr] (pc2.east) -- (979.7,768) -- (rp.south);
\draw[arr] (hma.north) -- (hma.north |- pc2.south);
\draw[arr] (F13.east) -- (F13.east -| hma.west);
\draw[arr] (rp.east) -- (1017,658.2);
\draw[arr] (1065,658.75) -- (F16.west);
\draw (1073.3,540.2) -- (1073.3,800.4);
\draw[arr] (1073.3,540.2) -- (vs.west);
\draw[arr] (1073.3,707.5) -- (hr.west);
\draw[arr] (1073.3,743.45) -- (ec.west);
\draw[arr] (1073.3,774.1) -- (cgp.west);
\draw[arr] (1073.3,800.4) -- (epc.west);
\draw[arr] (1041.3,696) -- (1041.3,830) -- (fcert.west);
\draw[arr] (vs.east) -- (1404.6,540.2) -- (1404.6,658.6);
\draw[arr] (1154,611.8) -- (1154,630.5);
\draw[arr] (1209.6,630.5) -- (1209.6,611.8);
\draw[arr] (F16.east) -- (F16.east -| psg.west);
\draw[arr] (psg.east) -- (psg.east -| fsub.west);
\draw[arr] (psg.north) -- (psg.north |- F17.south);
\draw (hr.east) -- (1318.7,707.5);
\draw (ec.east) -- (1318.7,743.45);
\draw[arr] (1318.7,743.45) -- (psg.south);
\draw (cgp.east) -- (1372.65,774.1);
\draw[arr] (epc.east) -- (1372.65,800.4) -- (fsub.south);
\draw[arr] (fsub.north |- F17.south) -- (fsub.north);
\draw[arr] (fsub.east) -- (fsub.east -| pfa.west);
\draw[arr] (pfa.east) -- (pfa.east -| adv.west);
\draw[arr] (adv.east) -- (adv.east -| paw.west);
\draw (fcert.east) -- (1442.15,830);
\draw[arr] (rwc.east) -- (1442.15,889.5) -- (pfa.south);
\draw (F14.east) -- (924,886.5) arc (180:360:4) -- (1038,886.5);
\draw (1038,866.5) -- (1038,909.25);
\draw[arr] (1038,866.5) -- (rre.west);
\draw[arr] (1038,909.25) -- (hmr.west);
\draw (rre.east) -- (1193.4,866.5) -- (1193.4,909.25) -- (hmr.east);
\draw[arr] (1193.4,889.5) -- (rwc.west);
\end{tikzpicture}
\end{document}
